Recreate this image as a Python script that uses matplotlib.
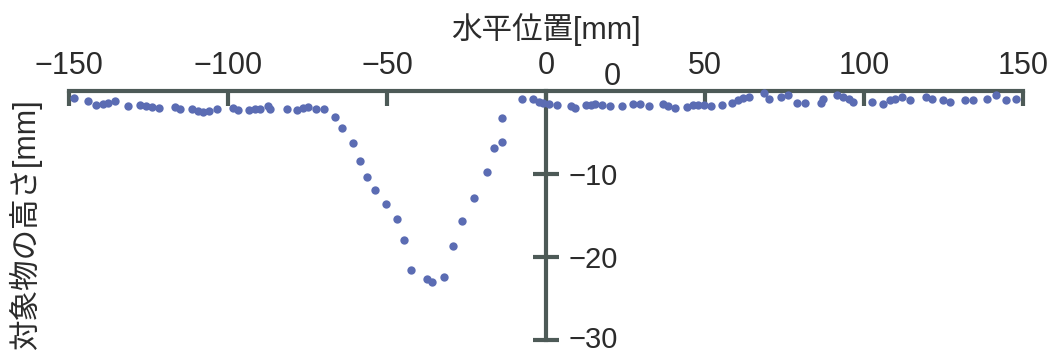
import matplotlib
matplotlib.use("Agg")
import matplotlib.pyplot as plt
import matplotlib.transforms as mtransforms

# 水平位置 [mm] / 対象物の高さ [mm]
pos_left = [-148.4, -143.9, -141.5, -139.4, -137.6, -135.5, -131.4, -127.7,
            -125.8, -124.0, -121.6, -116.7, -115.1, -111.4, -109.3, -107.8,
            -105.9, -103.6, -98.3, -96.8, -93.3, -91.5, -89.9, -87.3, -86.8,
            -81.4, -78.2, -76.5, -74.7, -72.3, -69.8]
height_left = [-0.84, -1.24, -1.65, -1.53, -1.41, -1.20, -1.81, -1.72,
               -1.84, -1.89, -2.05, -1.93, -2.13, -2.20, -2.45, -2.53,
               -2.45, -2.20, -2.05, -2.33, -2.33, -2.20, -2.13, -1.81, -2.20,
               -2.20, -2.33, -2.05, -1.93, -2.13, -2.20]

pos_dip = [-66.4, -64.1, -60.6, -58.5, -56.3, -53.9, -50.4, -46.9, -44.7,
           -42.5, -37.5, -35.9, -32.1, -29.3, -26.5, -22.6, -18.6, -16.3,
           -13.7, -13.7]
height_dip = [-3.13, -4.49, -6.23, -8.40, -10.36, -11.93, -13.66, -15.46,
              -17.95, -21.57, -22.65, -23.05, -22.37, -18.64, -15.70, -12.93,
              -9.80, -6.87, -6.14, -3.29]

pos_right = [-7.6, -4.2, -2.1, -0.8, 1.0, 3.4, 7.8, 9.1, 12.6, 14.1, 15.4,
             17.5, 20.1, 23.8, 27.3, 29.6, 32.4, 36.9, 38.5, 40.6, 44.4, 46.3,
             47.9, 49.7, 51.9, 55.3, 58.4, 60.5, 62.0, 63.9, 68.6, 70.2, 73.8,
             76.2, 78.8, 81.4, 86.4, 87.2, 91.4, 93.3, 95.4, 96.4, 102.4,
             106.1, 108.2, 109.7, 111.9, 114.5, 119.5, 121.3, 124.7, 127.0,
             131.8, 134.4, 138.6, 141.5, 144.7, 147.8]
height_right = [-0.93, -1.00, -1.33, -1.41, -1.53, -1.65, -1.81, -2.05, -1.72,
                -1.65, -1.53, -1.72, -1.84, -1.81, -1.53, -1.53, -1.84, -1.53,
                -1.81, -2.05, -1.93, -1.72, -1.65, -1.72, -1.84, -1.72, -1.41,
                -1.12, -0.84, -0.72, -0.20, -1.00, -0.72, -0.52, -1.41, -1.41,
                -1.41, -0.93, -0.52, -0.72, -0.93, -1.33, -1.33, -1.53, -1.12,
                -0.93, -0.72, -1.12, -0.72, -1.00, -1.12, -1.33, -1.12, -1.12,
                -0.93, -0.52, -1.12, -0.93]

x_ticks = [-150, -100, -50, 0, 50, 100, 150]
y_ticks = [-30, -20, -10]

axis_col = "#4d5a57"
text_col = "#2b2b2b"
dot_col = "#5b6cb3"
num_font = ["Liberation Sans", "DejaVu Sans"]
jp_font = ["Liberation Sans", "Noto Sans CJK JP", "DejaVu Sans"]

W, H = 1056, 356
fig = plt.figure(figsize=(W / 100, H / 100), dpi=100)
fig.patch.set_facecolor("white")
ax = fig.add_axes([69 / W, 1 - 340 / H, (1023 - 69) / W, (340 - 91) / H])

xs = pos_left + pos_dip + pos_right
ys = height_left + height_dip + height_right
ax.plot(xs, ys, "o", color=dot_col, markersize=6, markeredgewidth=0,
        clip_on=False, zorder=3)

ax.set_xlim(-150, 150)
ax.set_ylim(-30, 0)

# x 軸は上側、y 軸は x=0 の位置
ax.spines["bottom"].set_visible(False)
ax.spines["left"].set_visible(False)
ax.spines["top"].set_color(axis_col)
ax.spines["top"].set_linewidth(3)
ax.spines["right"].set_position(("data", 0))
ax.spines["right"].set_color(axis_col)
ax.spines["right"].set_linewidth(3)

ax.xaxis.tick_top()
ax.set_xticks(x_ticks)
ax.tick_params(axis="x", direction="in", length=11, width=3, color=axis_col,
               pad=7, labelsize=22, labelcolor=text_col)
ax.yaxis.tick_right()
ax.set_yticks(y_ticks)
ax.tick_params(axis="y", direction="inout", length=19, width=3, color=axis_col,
               pad=7, labelsize=21, labelcolor=text_col)
for lab in ax.get_xticklabels() + ax.get_yticklabels():
    lab.set_family(num_font)

# 一番下の −30 は画像の端で切れないよう少し上げる
fig.canvas.draw()
shift = mtransforms.ScaledTranslation(0, 3 / 100, fig.dpi_scale_trans)
for tick in ax.yaxis.get_major_ticks():
    if tick.get_loc() == -30:
        tick.label2.set_transform(tick.label2.get_transform() + shift)

# y 軸の 0 ラベル（少し上にずれている）
ax.text(21, 1.7, "0", ha="center", va="center", fontsize=22,
        color=text_col, family=num_font, clip_on=False)

fig.text(546 / W, 1 - 30 / H, "水平位置[mm]", ha="center", va="center",
         fontsize=22, color=text_col, family=jp_font)
fig.text(26 / W, 1 - 225 / H, "対象物の高さ[mm]", ha="center", va="center",
         rotation=90, fontsize=22, color=text_col, family=jp_font)

fig.savefig("out.png", dpi=100, facecolor="white")
